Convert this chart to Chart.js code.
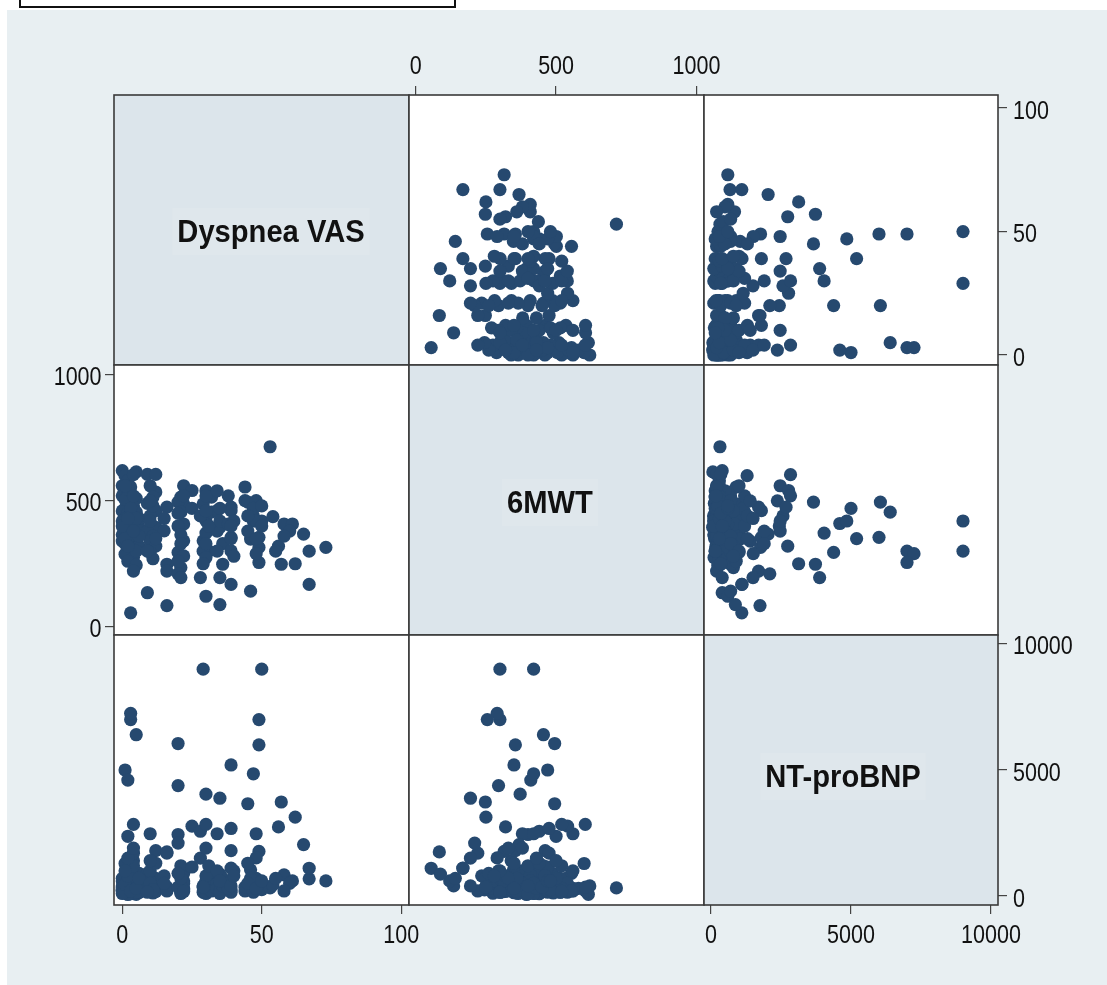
<!DOCTYPE html>
<html>
<head>
<meta charset="utf-8">
<script src="https://cdn.jsdelivr.net/npm/chart.js@4.4.1/dist/chart.umd.min.js"></script>
<style>
  html, body { margin: 0; padding: 0; background: #fff; width: 1107px; height: 985px; overflow: hidden; }
  #bg { position: absolute; left: 7px; top: 10px; width: 1100px; height: 975px; background: #e8eff2; }
  #titlebox { position: absolute; left: 19px; top: -6px; width: 433px; height: 10px; border: 2px solid #111; background: #fff; }
  canvas { position: absolute; }
</style>
</head>
<body>
<div id="bg"></div>
<div id="titlebox"></div>
<script>
// Scatter-plot matrix: Dyspnea VAS / 6MWT / NT-proBNP, one subject per index

// ── data (one entry per subject) ─────────────────────────────────────────────
const vas = [
  0, 5, 1, 2, 0, 3, 4, 1, 0, 2, 5, 3, 1, 4, 0, 2, 5, 3, 1, 0, 2, 4, 6, 1, 3, 0, 5, 2, 4, 1,
  6, 3, 3, 3, 1, 4, 2, 5, 4, 3, 2, 0, 6, 1, 5, 2,
  9, 12, 12, 10, 11, 9, 12, 10, 12, 9, 11, 10, 12, 10, 9, 11,
  16, 15, 16, 16, 16, 15,
  22, 21, 22, 20, 21, 22, 20, 22, 21, 20, 22, 21, 20, 21,
  25, 25,
  30, 32, 29, 30, 28, 30, 29, 30, 31, 29, 30, 28, 30, 32,
  34, 34, 35, 34, 36, 35, 35, 35, 36,
  39, 39, 38, 39, 39, 39, 40, 39, 38,
  44, 44, 45, 48, 47, 46, 47, 50, 49, 49, 49, 48, 46, 48, 47, 45, 50,
  53, 54, 58, 61, 57, 62, 56, 55, 60, 58,
  65, 67, 67, 73,
  0, 1, 2, 3, 4, 5, 6, 10, 11, 12, 9, 20, 21, 22, 20, 30, 31, 29, 34, 35,
  39, 40, 45, 48, 50, 2, 4, 1, 10, 30
];
const walk = [
  620, 615, 600, 580, 560, 555, 604, 540, 520, 500, 510, 490, 470, 480, 460, 450, 455, 440, 430, 420,
  410, 400, 395, 385, 375, 365, 360, 350, 340, 330, 320, 310, 300, 290, 288, 275, 260, 245, 221, 55,
  395, 340, 430, 505, 300, 545,
  605, 605, 535, 560, 515, 490, 461, 440, 395, 380, 360, 341, 320, 295, 135, 270,
  475, 381, 248, 221, 84, 430,
  560, 515, 488, 495, 455, 408, 400, 341, 365, 295, 281, 235, 210, 195,
  541, 470,
  540, 515, 488, 421, 440, 520, 341, 372, 300, 300, 275, 195, 121, 455,
  540, 461, 395, 380, 248, 195, 88, 420, 330,
  475, 461, 408, 355, 350, 301, 420, 168, 520,
  555, 501, 495, 501, 420, 348, 440, 420, 315, 255, 355, 420, 141, 290, 470, 380, 400,
  715, 437, 408, 408, 248, 250, 320, 300, 380, 360,
  368, 300, 168, 315,
  400, 350, 320, 470, 520, 430, 360, 420, 480, 350, 300, 450, 330, 520, 260, 460, 400, 250, 300, 470,
  400, 280, 440, 350, 480, 430, 380, 560, 500, 330
];
const bnp = [
  400, 67, 1290, 300, 200, 900, 2840, 150, 600, 2370, 250, 120, 5000, 350, 700, 180, 6400, 90, 500, 260,
  4600, 800, 140, 320, 1000, 220, 450, 130, 1400, 280, 600, 170, 7000, 7250, 380, 110, 520, 240, 1700, 1100,
  60, 330, 900, 420, 160, 210,
  200, 350, 700, 2470, 150, 300, 1800, 260, 450, 900, 120, 600, 180, 1000, 400, 300,
  1700, 800, 350, 200, 1750, 500,
  300, 150, 900, 6050, 1200, 600, 2440, 250, 100, 4380, 500, 800, 2100, 400,
  2770, 1150,
  300, 700, 150, 100, 2570, 2840, 400, 4040, 250, 9000, 600, 1500, 600, 200,
  500, 300, 180, 2470, 700, 3880, 870, 100, 400,
  2680, 250, 500, 1800, 5200, 150, 1000, 1107, 300,
  200, 350, 3660, 700, 4850, 1040, 400, 9000, 1770, 7000, 6000, 2470, 700, 1510, 150, 500, 250,
  320, 440, 840, 600, 3730, 3130, 2740, 700, 500, 200,
  2040, 680, 1100, 600,
  100, 450, 800, 200, 1200, 300, 700, 500, 250, 1300, 150, 350, 700, 180, 900, 800, 1200, 350, 1000, 600,
  400, 800, 1300, 300, 600, 1500, 1900, 1000, 1400, 1900
];

const vasTicks  = [0, 50, 100];
const walkTicks = [0, 500, 1000];
const bnpTicks  = [0, 5000, 10000];
const varLabels = ['Dyspnea VAS', '6MWT', 'NT-proBNP'];

// ── layout / style ───────────────────────────────────────────────────────────
const colEdges = [114, 409, 704, 998];
const rowEdges = [95, 365, 635, 905];
const PAD = 105;         // extra canvas room round each cell
const AX = 60;           // fixed axis box size
const DOT = '#26496f';
const DIAG_BG = '#dce5eb';
const FRAME = '#3a3a3a';
const FONT = '"Liberation Sans", Arial, sans-serif';
const SQUEEZE = 0.86;    // the original uses a narrow Helvetica

// per-variable axis ranges (x use and y use)
const vars = [
  { data: vas,  ticks: vasTicks,  xr: [-2.97, 102.8], yr: [-4.05, 105.3] },
  { data: walk, ticks: walkTicks, xr: [-24, 1027],    yr: [-33, 1039.7] },
  { data: bnp,  ticks: bnpTicks,  xr: [-250, 10250],  yr: [-357, 10357] },
];
// label centres in page pixels
const labelPos = [[271, 231], [550, 502], [843, 776]];

// ── helpers ──────────────────────────────────────────────────────────────────
function axis(range, ticks, shown, position) {
  return {
    type: 'linear',
    position,
    display: shown,
    min: range[0],
    max: range[1],
    afterBuildTicks: s => { s.ticks = ticks.map(v => ({ value: v })); },
    afterFit: s => {
      if (!shown) return;
      if (s.isHorizontal()) s.height = AX; else s.width = AX;
    },
    grid: { display: true, drawOnChartArea: false, drawTicks: true, tickLength: 9, color: '#444', lineWidth: 1.2 },
    border: { display: false },
    ticks: { display: false },
  };
}

function squeezedText(ctx, text, x, y, align, font, sx) {
  ctx.save();
  ctx.font = font;
  ctx.translate(x, y);
  ctx.scale(sx, 1);
  ctx.textAlign = align;
  ctx.textBaseline = 'alphabetic';
  ctx.fillText(text, 0, 0);
  ctx.restore();
}

const cellPlugin = {
  id: 'cell',
  beforeDraw(chart, args, opts) {
    const { ctx, chartArea: a } = chart;
    ctx.save();
    ctx.fillStyle = opts.diag ? DIAG_BG : '#fff';
    ctx.fillRect(a.left, a.top, a.width, a.height);
    ctx.restore();
  },
  afterDraw(chart, args, opts) {
    const { ctx, chartArea: a } = chart;
    const tickFont = `25px ${FONT}`;
    ctx.save();
    ctx.fillStyle = '#111';
    // tick labels, placed through the chart's own scales
    const sx = chart.scales.x, sy = chart.scales.y;
    if (opts.top || opts.bottom) {
      sx.ticks.forEach(t => {
        const px = sx.getPixelForValue(t.value);
        const py = opts.top ? a.top - 21 : a.bottom + 37.5;
        squeezedText(ctx, String(t.value), px, py, 'center', tickFont, SQUEEZE);
      });
    }
    if (opts.left || opts.right) {
      sy.ticks.forEach(t => {
        const py = sy.getPixelForValue(t.value) + 10.5;
        if (opts.left) squeezedText(ctx, String(t.value), a.left - 12.5, py, 'right', tickFont, SQUEEZE);
        else squeezedText(ctx, String(t.value), a.right + 15, py, 'left', tickFont, SQUEEZE);
      });
    }
    if (opts.label) {
      const x = a.left + opts.lx, y = a.top + opts.ly;
      const font = `bold 31px ${FONT}`;
      ctx.font = font;
      const tw = ctx.measureText(opts.label).width * 0.94;
      ctx.fillStyle = '#dfe7ec';
      ctx.fillRect(x - tw / 2 - 5, y - 23, tw + 10, 47);
      ctx.fillStyle = '#111';
      squeezedText(ctx, opts.label, x, y + 11, 'center', font, 0.94);
    }
    ctx.strokeStyle = FRAME;
    ctx.lineWidth = 1.6;
    ctx.strokeRect(a.left, a.top, a.width, a.height);
    ctx.restore();
  }
};

function makeCell(r, c) {
  const xv = vars[c], yv = vars[r];
  const diag = r === c;
  const showTop = r === 0 && c === 1;
  const showBottom = r === 2 && (c === 0 || c === 2);
  const showLeft = r === 1 && c === 0;
  const showRight = c === 2 && (r === 0 || r === 2);

  const left = colEdges[c], top = rowEdges[r];
  const w = colEdges[c + 1] - left, h = rowEdges[r + 1] - top;

  const canvas = document.createElement('canvas');
  canvas.width = w + 2 * PAD;
  canvas.height = h + 2 * PAD;
  canvas.style.left = (left - PAD) + 'px';
  canvas.style.top = (top - PAD) + 'px';
  document.body.appendChild(canvas);

  const points = diag ? [] : xv.data.map((x, i) => ({ x, y: yv.data[i] }));

  new Chart(canvas, {
    type: 'scatter',
    data: {
      datasets: [{
        data: points,
        pointRadius: 6.6,
        pointHoverRadius: 6.6,
        pointBackgroundColor: DOT,
        pointBorderWidth: 0,
        clip: 0,
      }]
    },
    options: {
      responsive: false,
      animation: false,
      devicePixelRatio: 1,
      events: [],
      layout: {
        autoPadding: false,
        padding: {
          left: PAD - (showLeft ? AX : 0),
          right: PAD - (showRight ? AX : 0),
          top: PAD - (showTop ? AX : 0),
          bottom: PAD - (showBottom ? AX : 0),
        }
      },
      plugins: {
        legend: { display: false },
        tooltip: { enabled: false },
        cell: {
          diag,
          top: showTop, bottom: showBottom, left: showLeft, right: showRight,
          label: diag ? varLabels[r] : null,
          lx: labelPos[r][0] - left,
          ly: labelPos[r][1] - top,
        }
      },
      scales: {
        x: axis(xv.xr, xv.ticks, showTop || showBottom, showTop ? 'top' : 'bottom'),
        y: axis(yv.yr, yv.ticks, showLeft || showRight, showRight ? 'right' : 'left'),
      }
    },
    plugins: [cellPlugin]
  });
}

for (let r = 0; r < 3; r++) {
  for (let c = 0; c < 3; c++) makeCell(r, c);
}
</script>
</body>
</html>
